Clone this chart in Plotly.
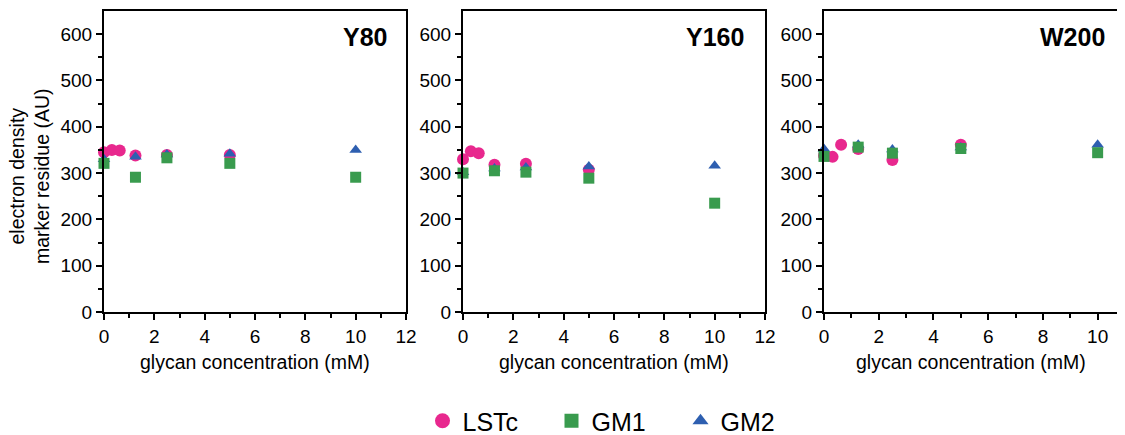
import plotly.graph_objects as go

# ---- data ----
panels = ["Y80", "Y160", "W200"]
lstc_x = [0, 0.3125, 0.625, 1.25, 2.5, 5]
gm_x = [0, 1.25, 2.5, 5, 10]

lstc_y80 = [345, 350, 349, 338, 339, 339]
gm1_y80 = [321, 291, 333, 321, 291]
gm2_y80 = [330, 335, 340, 342, 350]

lstc_y160 = [330, 347, 343, 318, 320, 307]
gm1_y160 = [300, 305, 302, 289, 235]
gm2_y160 = [302, 310, 312, 314, 316]

lstc_w200 = [338, 335, 361, 352, 328, 361]
gm1_w200 = [336, 356, 343, 353, 344]
gm2_w200 = [352, 361, 351, 355, 361]

series = [
    (lstc_y80, gm1_y80, gm2_y80),
    (lstc_y160, gm1_y160, gm2_y160),
    (lstc_w200, gm1_w200, gm2_w200),
]
legend_names = ["LSTc", "GM1", "GM2"]
x_max = [12, 12, 11]
x_ticks_last = [12, 12, 10]

PINK = "#E8288E"
GREEN = "#399B4E"
BLUE = "#2E5FB0"
FONT = "Liberation Sans, Arial, sans-serif"

OFF = 8  # page body margin
W, H = 1125 - OFF, 435 - OFF
def px(x):
    return (x - OFF) / W
def py(y):
    return 1 - (y - OFF) / H

x_domains = [(104, 406), (463, 765), (824, 1125)]
y_dom = [py(312), py(11)]

fig = go.Figure()
for i, (lst, g1, g2) in enumerate(series):
    xa = "x" if i == 0 else f"x{i+1}"
    ya = "y" if i == 0 else f"y{i+1}"
    fig.add_trace(go.Scatter(x=lstc_x, y=lst, mode="markers", name="LSTc",
                             marker=dict(symbol="circle", size=12, color=PINK),
                             xaxis=xa, yaxis=ya, showlegend=False, cliponaxis=False))
    fig.add_trace(go.Scatter(x=gm_x, y=g2, mode="markers", name="GM2",
                             marker=dict(symbol="triangle-up", size=11, color=BLUE),
                             xaxis=xa, yaxis=ya, showlegend=False, cliponaxis=False))
    fig.add_trace(go.Scatter(x=gm_x, y=g1, mode="markers", name="GM1",
                             marker=dict(symbol="square", size=11, color=GREEN),
                             xaxis=xa, yaxis=ya, showlegend=False, cliponaxis=False))

# legend-only entries (slightly larger symbols as in the reference)
for name, sym, col, sz in [(legend_names[0], "circle", PINK, 15),
                           (legend_names[1], "square", GREEN, 14),
                           (legend_names[2], "triangle-up", BLUE, 14)]:
    fig.add_trace(go.Scatter(x=[None], y=[None], mode="markers", name=name,
                             marker=dict(symbol=sym, size=sz, color=col),
                             showlegend=True))

axis_common = dict(showgrid=False, zeroline=False, showline=True, linecolor="black",
                   linewidth=2, ticks="outside", ticklen=6, tickwidth=2, tickcolor="black",
                   tickfont=dict(family=FONT, size=19, color="black"))

for i in range(3):
    sfx = "" if i == 0 else str(i + 1)
    d = x_domains[i]
    fig.layout["xaxis" + sfx] = dict(
        axis_common, domain=[px(d[0]), min(px(d[1]), 1.0)], range=[0, x_max[i]],
        tickmode="array", tickvals=list(range(0, x_ticks_last[i] + 1, 2)),
        minor=dict(tickvals=list(range(1, x_max[i], 2)), ticks="outside", ticklen=4,
                   tickwidth=2, tickcolor="black"),
        mirror=True, anchor="y" + sfx)
    fig.layout["yaxis" + sfx] = dict(
        axis_common, domain=y_dom, range=[0, 650],
        tickmode="array", tickvals=[0, 100, 200, 300, 400, 500, 600],
        minor=dict(tickvals=[50, 150, 250, 350, 450, 550], ticks="outside", ticklen=4,
                   tickwidth=2, tickcolor="black"),
        mirror=(i < 2), anchor="x" + sfx)

annotations = []
title_right = [389, 746, 1107]
title_cx = [255, 614, 971]
for i in range(3):
    annotations.append(dict(text=f"<b>{panels[i]}</b>", x=px(title_right[i]), y=py(37),
                            xref="paper", yref="paper", xanchor="right", yanchor="middle",
                            showarrow=False, font=dict(family=FONT, size=25, color="black")))
    annotations.append(dict(text="glycan concentration (mM)", x=px(title_cx[i]),
                            y=py(362), xref="paper", yref="paper", xanchor="center",
                            yanchor="middle", showarrow=False,
                            font=dict(family=FONT, size=19.5, color="black")))
annotations.append(dict(text="electron density<br>marker residue (AU)", x=px(29), y=py(176),
                        xref="paper", yref="paper", xanchor="center", yanchor="middle",
                        textangle=-90, showarrow=False,
                        font=dict(family=FONT, size=19.5, color="black")))

fig.update_layout(
    width=W, height=H,
    margin=dict(l=0, r=0, t=0, b=0, autoexpand=False),
    paper_bgcolor="white", plot_bgcolor="white",
    annotations=annotations,
    legend=dict(orientation="h", x=px(616), y=py(421), xanchor="center", yanchor="middle",
                font=dict(family=FONT, size=25, color="black"), itemwidth=30,
                entrywidth=84, traceorder="normal"),
)

fig.write_html("out.html")
